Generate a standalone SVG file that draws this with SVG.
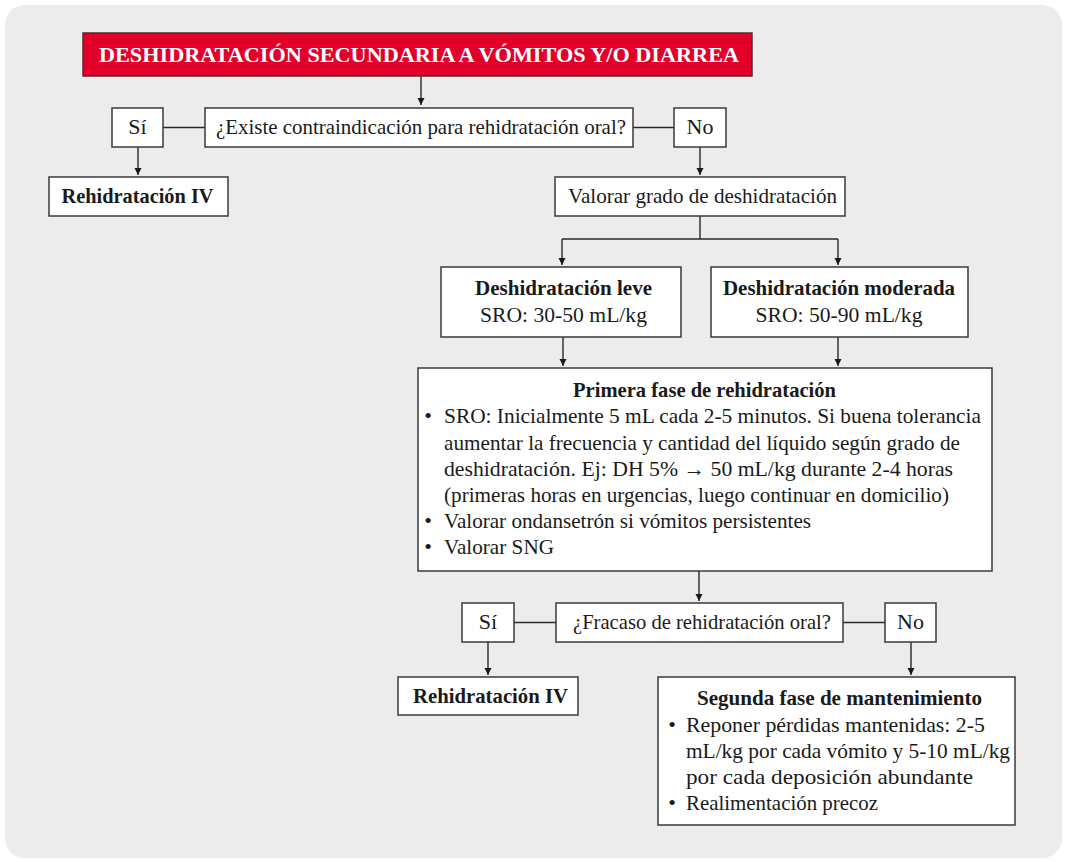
<svg xmlns="http://www.w3.org/2000/svg" width="1065" height="862" viewBox="0 0 1065 862">
<style>
.box{fill:#ffffff;stroke:#3a3a3a;stroke-width:1.5}
.t{font-family:"Liberation Serif","Times New Roman",serif;font-size:22px;fill:#1a1a1a}
.c{text-anchor:middle}
.b{font-weight:bold;font-size:21px}
.ln{fill:none;stroke:#2a2a2a;stroke-width:1.4}
.ar{marker-end:url(#ah)}
</style>
<defs>
<marker id="ah" markerUnits="userSpaceOnUse" markerWidth="8" markerHeight="8" refX="7" refY="3.5" orient="auto">
<path d="M0,0 L7,3.5 L0,7 z" fill="#1a1a1a"/>
</marker>
</defs>
<rect x="0" y="0" width="1065" height="862" fill="#ffffff"/>
<rect x="5" y="5" width="1057" height="853" rx="20" ry="20" fill="#ebeceb"/>

<g id="connectors">
<path class="ln ar" d="M421,76 V105"/>
<path class="ln" d="M163,127.5 H205"/>
<path class="ln" d="M633,127.5 H674"/>
<path class="ln ar" d="M138,147 V175"/>
<path class="ln ar" d="M700,147 V175"/>
<path class="ln" d="M700,216 V239 M562,239 H838"/>
<path class="ln ar" d="M562,239 V265"/>
<path class="ln ar" d="M838,239 V265"/>
<path class="ln ar" d="M563,337 V366"/>
<path class="ln ar" d="M838,337 V366"/>
<path class="ln ar" d="M699,571 V601"/>
<path class="ln" d="M514,622.5 H556"/>
<path class="ln" d="M843,622.5 H885"/>
<path class="ln ar" d="M488,642 V675"/>
<path class="ln ar" d="M911,642 V675"/>
</g>

<g id="title">
<rect x="83" y="33" width="669" height="43" fill="#e2002a" stroke="#5a2a2a" stroke-width="1.5"/>
<text class="t c b" x="419" y="62" style="fill:#ffffff;font-size:22px" textLength="640" lengthAdjust="spacingAndGlyphs">DESHIDRATACIÓN SECUNDARIA A VÓMITOS Y/O DIARREA</text>
</g>

<g id="si1">
<rect class="box" x="112" y="108" width="51" height="39"/>
<text class="t c" x="137.5" y="134">Sí</text>
</g>

<g id="q1">
<rect class="box" x="205" y="108" width="428" height="39"/>
<text class="t c" x="421" y="134" textLength="410" lengthAdjust="spacingAndGlyphs">¿Existe contraindicación para rehidratación oral?</text>
</g>

<g id="no1">
<rect class="box" x="674" y="108" width="52" height="39"/>
<text class="t c" x="700" y="134">No</text>
</g>

<g id="iv1">
<rect class="box" x="49" y="177" width="179" height="39"/>
<text class="t c b" x="137.5" y="203" textLength="152" lengthAdjust="spacingAndGlyphs">Rehidratación IV</text>
</g>

<g id="valorar">
<rect class="box" x="555" y="177" width="290" height="39"/>
<text class="t c" x="702.5" y="203" textLength="269" lengthAdjust="spacingAndGlyphs">Valorar grado de deshidratación</text>
</g>

<g id="leve">
<rect class="box" x="441" y="267" width="240" height="70"/>
<text class="t c b" x="563.5" y="295" textLength="177" lengthAdjust="spacingAndGlyphs">Deshidratación leve</text>
<text class="t c" x="563.5" y="322" textLength="167" lengthAdjust="spacingAndGlyphs">SRO: 30-50 mL/kg</text>
</g>

<g id="moderada">
<rect class="box" x="711" y="267" width="257" height="70"/>
<text class="t c b" x="839" y="295" textLength="232" lengthAdjust="spacingAndGlyphs">Deshidratación moderada</text>
<text class="t c" x="839" y="322" textLength="167" lengthAdjust="spacingAndGlyphs">SRO: 50-90 mL/kg</text>
</g>

<g id="primera">
<rect class="box" x="418" y="368" width="574" height="203"/>
<text class="t c b" x="704.5" y="397" textLength="263" lengthAdjust="spacingAndGlyphs">Primera fase de rehidratación</text>
<text class="t c" x="428" y="423">•</text>
<text class="t" x="444" y="423" textLength="537" lengthAdjust="spacingAndGlyphs">SRO: Inicialmente 5 mL cada 2-5 minutos. Si buena tolerancia</text>
<text class="t" x="444" y="449.5" textLength="516" lengthAdjust="spacingAndGlyphs">aumentar la frecuencia y cantidad del líquido según grado de</text>
<text class="t" x="444" y="476" textLength="509" lengthAdjust="spacingAndGlyphs">deshidratación. Ej: DH 5% → 50 mL/kg durante 2-4 horas</text>
<text class="t" x="444" y="502" textLength="505" lengthAdjust="spacingAndGlyphs">(primeras horas en urgencias, luego continuar en domicilio)</text>
<text class="t c" x="428" y="528">•</text>
<text class="t" x="444" y="528" textLength="367" lengthAdjust="spacingAndGlyphs">Valorar ondansetrón si vómitos persistentes</text>
<text class="t c" x="428" y="554">•</text>
<text class="t" x="444" y="554" textLength="110" lengthAdjust="spacingAndGlyphs">Valorar SNG</text>
</g>

<g id="si2">
<rect class="box" x="462" y="603" width="52" height="39"/>
<text class="t c" x="488" y="629">Sí</text>
</g>

<g id="q2">
<rect class="box" x="556" y="603" width="287" height="39"/>
<text class="t c" x="702" y="629" textLength="258" lengthAdjust="spacingAndGlyphs">¿Fracaso de rehidratación oral?</text>
</g>

<g id="no2">
<rect class="box" x="885" y="603" width="51" height="39"/>
<text class="t c" x="910.5" y="629">No</text>
</g>

<g id="iv2">
<rect class="box" x="398" y="677" width="180" height="38"/>
<text class="t c b" x="490.5" y="703" textLength="155" lengthAdjust="spacingAndGlyphs">Rehidratación IV</text>
</g>

<g id="segunda">
<rect class="box" x="658" y="677" width="357" height="148"/>
<text class="t c b" x="839.5" y="705" textLength="285" lengthAdjust="spacingAndGlyphs">Segunda fase de mantenimiento</text>
<text class="t c" x="672" y="732">•</text>
<text class="t" x="686" y="732" textLength="299" lengthAdjust="spacingAndGlyphs">Reponer pérdidas mantenidas: 2-5</text>
<text class="t" x="686" y="758" textLength="324" lengthAdjust="spacingAndGlyphs">mL/kg por cada vómito y 5-10 mL/kg</text>
<text class="t" x="686" y="784" textLength="287" lengthAdjust="spacingAndGlyphs">por cada deposición abundante</text>
<text class="t c" x="672" y="810">•</text>
<text class="t" x="686" y="810" textLength="192" lengthAdjust="spacingAndGlyphs">Realimentación precoz</text>
</g>
</svg>
